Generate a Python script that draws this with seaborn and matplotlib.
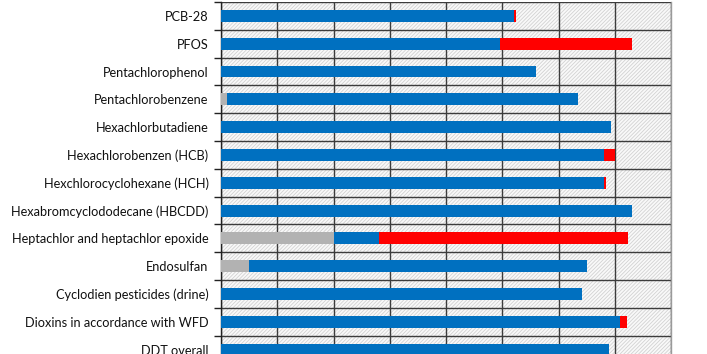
import numpy as np
import pandas as pd
import matplotlib
matplotlib.use("Agg")
import matplotlib.pyplot as plt
from matplotlib.patches import Rectangle
from matplotlib.ticker import FixedLocator
import seaborn as sns

sns.set_style("white")
plt.rcParams["font.family"] = ["Lato", "DejaVu Sans"]
plt.rcParams["hatch.color"] = "#d2d2d2"
plt.rcParams["hatch.linewidth"] = 0.6

substances = [
    "PCB-28",
    "PFOS",
    "Pentachlorophenol",
    "Pentachlorobenzene",
    "Hexachlorbutadiene",
    "Hexachlorobenzen (HCB)",
    "Hexchlorocyclohexane (HCH)",
    "Hexabromcyclododecane (HBCDD)",
    "Heptachlor and heptachlor epoxide",
    "Endosulfan",
    "Cyclodien pesticides (drine)",
    "Dioxins in accordance with WFD",
    "DDT overall",
]
gray_part = [0, 0, 0, 0.10, 0, 0, 0, 0, 2.00, 0.50, 0, 0, 0]
blue_part = [5.20, 4.96, 5.60, 6.25, 6.94, 6.80, 6.81, 7.30, 0.80, 6.01, 6.41, 7.10, 6.90]
red_part = [0.05, 2.35, 0, 0, 0, 0.21, 0.04, 0, 4.44, 0, 0, 0.11, 0]

df = pd.DataFrame({
    "substance": substances,
    "gray": gray_part,
    "blue": blue_part,
    "red": red_part,
})
df["upto_blue"] = df["gray"] + df["blue"]
df["total"] = df["upto_blue"] + df["red"]

fig = plt.figure(figsize=(7.07, 3.54), dpi=100)
ax = fig.add_axes([221 / 707, 0, 450 / 707, 352 / 354])

# hatched plot area
ax.add_patch(Rectangle((0, 0), 1, 1, transform=ax.transAxes, facecolor="#f9f9f9",
                       edgecolor="#d2d2d2", linewidth=0, hatch="/////////", zorder=0))

bar_w = 0.43
sns.barplot(data=df, x="total", y="substance", order=substances, orient="h",
            color="#ff0000", saturation=1, width=bar_w, linewidth=0, ax=ax, zorder=3)
sns.barplot(data=df, x="upto_blue", y="substance", order=substances, orient="h",
            color="#0070c0", saturation=1, width=bar_w, linewidth=0, ax=ax, zorder=3)
sns.barplot(data=df, x="gray", y="substance", order=substances, orient="h",
            color="#b2b2b2", saturation=1, width=bar_w, linewidth=0, ax=ax, zorder=3)

ax.set_xlim(0, 8)
ax.set_ylim(12.16, -0.5)
ax.set_xlabel("")
ax.set_ylabel("")

ax.set_xticks(np.arange(0, 9, 1))
ax.set_xticklabels([])
ax.tick_params(axis="x", length=0)
ax.grid(axis="x", color="#3c3c3c", linewidth=1.0, zorder=1)

ax.yaxis.set_minor_locator(FixedLocator(np.arange(-0.5, 13, 1)))
ax.tick_params(axis="y", which="major", length=0, pad=9, labelsize=9.2, labelcolor="#111111")
ax.tick_params(axis="y", which="minor", length=5, width=1.0, color="#222222", direction="out", left=True)
ax.grid(axis="y", which="minor", color="#3c3c3c", linewidth=1.0, zorder=1)
ax.set_axisbelow(True)

for s in ["top", "bottom"]:
    ax.spines[s].set_visible(False)
ax.spines["left"].set_color("#222222")
ax.spines["left"].set_linewidth(1.0)
ax.spines["right"].set_color("#9a9a9a")
ax.spines["right"].set_linewidth(1.0)

plt.savefig("out.png", dpi=100)
